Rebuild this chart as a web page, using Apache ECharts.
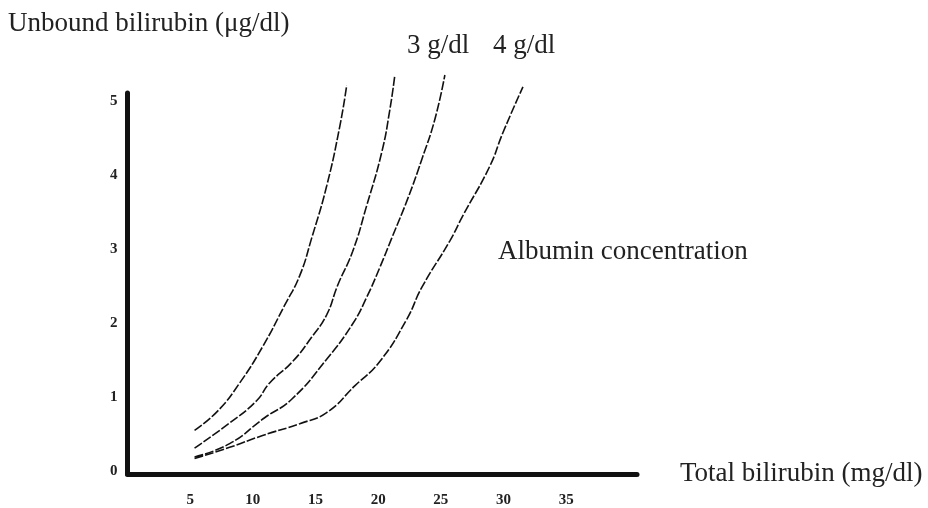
<!DOCTYPE html>
<html>
<head>
<meta charset="utf-8">
<script src="https://cdn.jsdelivr.net/npm/echarts@6/dist/echarts.min.js"></script>
<style>html,body{margin:0;padding:0;background:#fff}#c{width:928px;height:508px}</style>
</head>
<body>
<div id="c"></div>
<script>
// Data (x: total bilirubin mg/dl, y: unbound bilirubin µg/dl)
const xTickLabels = [5, 10, 15, 20, 25, 30, 35];
const yTickLabels = [0, 1, 2, 3, 4, 5];
const curve1 = [[5.35,0.55],[7.19,0.81],[8.95,1.19],[10.78,1.68],[12.54,2.24],[13.74,2.64],[14.70,3.15],[15.89,3.85],[16.93,4.65],[17.49,5.21]];
const curve2 = [[5.35,0.31],[8.15,0.65],[10.30,0.95],[11.34,1.19],[13.18,1.48],[14.70,1.81],[15.89,2.11],[16.77,2.51],[17.97,2.97],[19.09,3.59],[20.29,4.31],[20.93,4.88],[21.33,5.35]];
const curve3 = [[5.35,0.19],[8.15,0.37],[10.94,0.72],[13.10,0.97],[15.89,1.51],[17.97,1.99],[19.09,2.35],[20.13,2.75],[21.09,3.15],[22.36,3.68],[23.48,4.21],[24.52,4.75],[25.32,5.35]];
const curve4 = [[5.35,0.17],[8.15,0.32],[10.78,0.48],[13.74,0.64],[15.89,0.79],[18.13,1.15],[20.13,1.48],[22.28,2.05],[23.48,2.48],[25.72,3.11],[26.76,3.45],[28.91,4.12],[29.95,4.57],[31.55,5.19]];
const curves = [curve1, curve2, curve3, curve4];
const curveLabels = ['3 g/dl', '4 g/dl'];

const serif = '"Liberation Serif", "DejaVu Serif", serif';
const chart = echarts.init(document.getElementById('c'));
chart.setOption({
  animation: false,
  backgroundColor: '#fff',
  grid: { left: 127.5, right: 291, top: 93, bottom: 29, containLabel: false },
  xAxis: {
    type: 'value', min: 0, max: 40.65,
    axisLine: { show: true, onZero: false, lineStyle: { color: '#111', width: 5 } },
    axisTick: { show: false },
    splitLine: { show: false },
    axisLabel: { customValues: xTickLabels, margin: 19, fontFamily: serif, fontSize: 15, fontWeight: 'bold', color: '#222' }
  },
  yAxis: {
    type: 'value', min: -0.04, max: 5.107,
    axisLine: { show: true, onZero: false, lineStyle: { color: '#111', width: 5 } },
    axisTick: { show: false },
    splitLine: { show: false },
    axisLabel: { customValues: yTickLabels, margin: 10, fontFamily: serif, fontSize: 15, fontWeight: 'bold', color: '#222' }
  },
  series: curves.map(d => ({
    type: 'line', data: d, smooth: true, showSymbol: false, clip: false,
    lineStyle: { color: '#111', width: 1.6, type: [9, 2] }
  })),
  graphic: [
    { type: 'text', x: 8, y: 24, style: { text: 'Unbound bilirubin (μg/dl)', font: '27px ' + serif, fill: '#222', verticalAlign: 'middle' } },
    { type: 'text', x: 407, y: 46, style: { text: curveLabels[0], font: '27px ' + serif, fill: '#222', verticalAlign: 'middle' } },
    { type: 'text', x: 493, y: 46, style: { text: curveLabels[1], font: '27px ' + serif, fill: '#222', verticalAlign: 'middle' } },
    { type: 'text', x: 498, y: 252, style: { text: 'Albumin concentration', font: '27px ' + serif, fill: '#222', verticalAlign: 'middle' } },
    { type: 'text', x: 680, y: 474, style: { text: 'Total bilirubin (mg/dl)', font: '27px ' + serif, fill: '#222', verticalAlign: 'middle' } }
  ]
});
</script>
</body>
</html>
